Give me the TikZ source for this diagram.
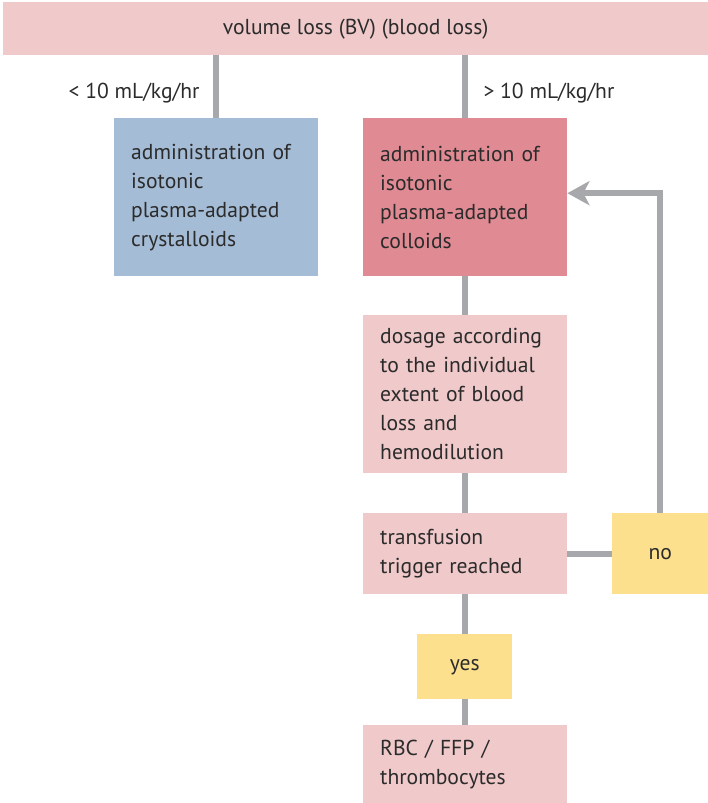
\documentclass[tikz,border=0pt]{standalone}
\usepackage{fontspec}
\setmainfont{PT Sans}
\usetikzlibrary{arrows.meta}
\definecolor{rose}{HTML}{F0C9CA}
\definecolor{steel}{HTML}{A5BCD6}
\definecolor{coral}{HTML}{E08A93}
\definecolor{butter}{HTML}{FDE08E}
\definecolor{wire}{HTML}{A7A8AB}
\definecolor{ink}{HTML}{2B2B2B}
\tikzset{
  txt/.style={font=\fontsize{21.6}{29}\selectfont, text=ink},
  box/.style={txt, fill=#1, anchor=north west, inner xsep=17pt, inner ysep=0pt,
    text width=170pt, align=left},
  tag/.style={txt, fill=butter, anchor=north west, inner sep=0pt, align=center},
  link/.style={draw=wire, line width=6pt}
}
\begin{document}
\begin{tikzpicture}[x=1pt,y=-1pt]
  \useasboundingbox (0,0) rectangle (708,803);
  % Boxes
  \node[txt, fill=rose, anchor=north west, minimum width=705pt, minimum height=53pt] (loss) at (3,2) {volume loss (BV) (blood loss)};
  \node[box=steel, minimum height=158pt] (cryst) at (114,118) {administration of\\isotonic\\plasma-adapted\\crystalloids};
  \node[box=coral, minimum height=158pt] (coll) at (363,118) {administration of\\isotonic\\plasma-adapted\\colloids};
  \node[box=rose, minimum height=158pt] (dose) at (363,315) {dosage according\\to the individual\\extent of blood\\loss and\\hemodilution};
  \node[box=rose, minimum height=81pt] (trig) at (363,513) {transfusion\\trigger reached};
  \node[tag, minimum width=96pt, minimum height=81pt] (no) at (612,513) {no};
  \node[tag, minimum width=95pt, minimum height=65pt] (yes) at (417,634) {yes};
  \node[box=rose, minimum height=78pt] (rbc) at (363,725) {RBC / FFP /\\thrombocytes};
  % Rates
  \node[txt, anchor=base east] (less) at (203,98) {< 10 mL/kg/hr};
  \node[txt, anchor=base west] (more) at (480,98) {> 10 mL/kg/hr};
  % Lines
  \draw[link] (cryst.north |- loss.south) -- (cryst.north);
  \draw[link] (coll.north |- loss.south) -- (coll.north);
  \draw[link] (coll) -- (dose);
  \draw[link] (dose) -- (trig);
  \draw[link] (trig.south) -- (trig.south |- yes.north);
  \draw[link] (rbc.north |- yes.south) -- (rbc.north);
  \draw[link] (trig) -- (no);
  \draw[link, -{Stealth[length=22pt, width=24pt, inset=6pt]}] (no.north) |- ([yshift=4pt]coll.east);
\end{tikzpicture}
\end{document}
